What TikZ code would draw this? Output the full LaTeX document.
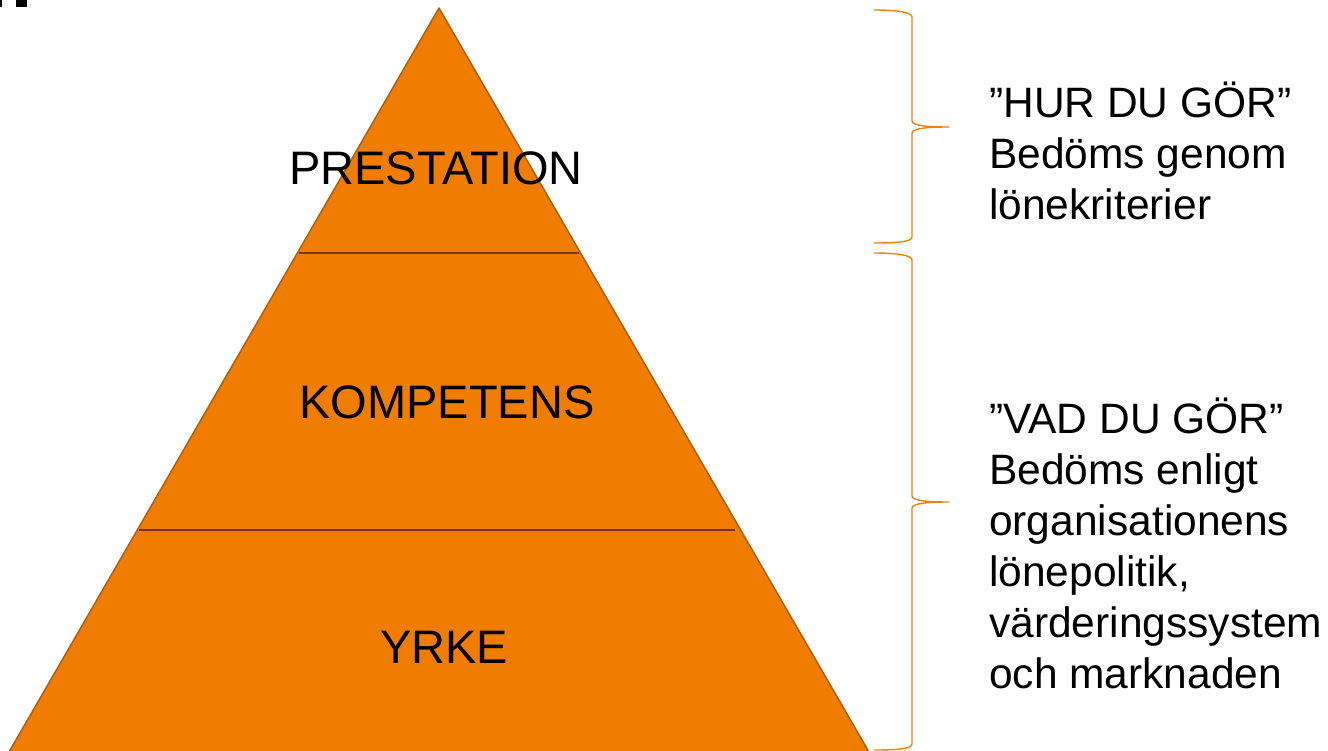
\documentclass[tikz,border=0pt]{standalone}
\usepackage{fontspec}
\setmainfont{Liberation Sans}
\usetikzlibrary{calc}
\definecolor{pyrfill}{RGB}{240,125,0}
\definecolor{pyredge}{RGB}{176,96,16}
\definecolor{pyrline}{RGB}{110,58,12}
\definecolor{bracecol}{RGB}{240,130,10}
\begin{document}
\begin{tikzpicture}[x=1pt,y=-1pt,
  level/.style={font=\fontsize{47}{50}\selectfont, anchor=base, inner sep=0pt},
  note/.style={font=\fontsize{42.5}{51}\selectfont, anchor=base west, inner sep=0pt},
  bracestyle/.style={draw=bracecol, line width=1.4pt, line join=round},
  divider/.style={draw=pyrline, line width=1.4pt}]
\useasboundingbox (0,0) rectangle (1328,751);

% small dark marks at the upper left corner
\fill[black] (0,0) rectangle (2,7);
\fill[black] (16,0) rectangle (27,7);

% pyramid
\coordinate (apex) at (439,8);
\coordinate (bl) at (9,752);
\coordinate (br) at (869,752);
\filldraw[fill=pyrfill, draw=pyredge, line width=1.5pt, line join=round]
  (apex) -- (br) -- (bl) -- cycle;

% level dividers
\coordinate (d1l) at ($(apex)!0.3293!(bl)+(2,0)$);
\coordinate (d1r) at ($(apex)!0.3293!(br)+(-2,0)$);
\coordinate (d2l) at ($(apex)!0.7016!(bl)+(2,0)$);
\coordinate (d2r) at ($(apex)!0.7016!(br)+(-6,0)$);
\draw[divider] (d1l) -- (d1r);
\draw[divider] (d2l) -- (d2r);

% level labels
\node[level] (prest) at (436,185) {PRESTATION};
\node[level] (komp) at (447,418) {KOMPETENS};
\node[level] (yrke) at (444,663) {YRKE};

% braces
\draw[bracestyle] (874,10) .. controls (896,10) and (912,12) .. (912,17)
  -- (912,121) .. controls (912,126) and (930,127) .. (949,127)
  .. controls (930,127) and (912,128) .. (912,133)
  -- (912,237) .. controls (912,242) and (896,243) .. (874,243);
\draw[bracestyle] (874,253) .. controls (896,253) and (912,255) .. (912,260)
  -- (912,496) .. controls (912,501) and (930,502) .. (949,502)
  .. controls (930,502) and (912,503) .. (912,508)
  -- (912,744) .. controls (912,749) and (896,750) .. (874,750);

% descriptions
\node[note] (h1) at (989,118) {”HUR DU GÖR”};
\node[note] (h2) at (989,169) {Bedöms genom};
\node[note] (h3) at (989,220) {lönekriterier};

\node[note] (v1) at (989,433) {”VAD DU GÖR”};
\node[note] (v2) at (989,484) {Bedöms enligt};
\node[note] (v3) at (989,535) {organisationens};
\node[note] (v4) at (989,586) {lönepolitik,};
\node[note] (v5) at (989,637) {värderingssystem};
\node[note] (v6) at (989,688) {och marknaden};
\end{tikzpicture}
\end{document}
